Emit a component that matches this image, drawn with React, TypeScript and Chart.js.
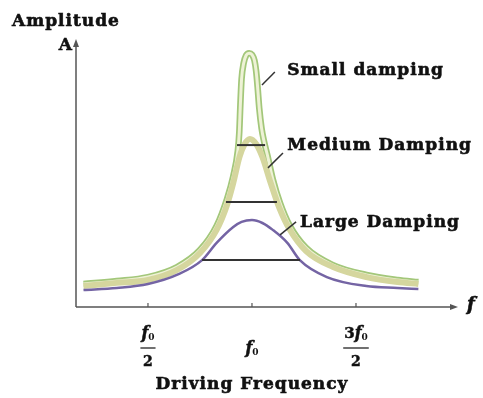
import React, { useEffect, useRef } from "react";
import { Chart, registerables } from "chart.js";

Chart.register(...registerables);

// Driving frequency in units of f0, amplitude in arbitrary units
const freqSmall = [0.19, 0.35, 0.5, 0.64, 0.75, 0.83, 0.88, 0.91, 0.932, 0.939, 0.944, 0.95, 0.96, 0.972, 0.986, 1.0, 1.012, 1.02, 1.027, 1.035, 1.046, 1.058, 1.075, 1.1, 1.135, 1.18, 1.26, 1.39, 1.55, 1.7, 1.8];
const ampSmall = [0.87, 0.98, 1.13, 1.51, 2.15, 3.06, 4.08, 4.94, 5.9, 6.6, 7.6, 8.6, 9.2, 9.5, 9.58, 9.52, 9.3, 8.9, 8.3, 7.5, 6.75, 6.25, 5.7, 4.83, 3.92, 3.09, 2.23, 1.58, 1.21, 1.02, 0.94];

const freqMedium = [0.19, 0.35, 0.5, 0.64, 0.75, 0.83, 0.88, 0.91, 0.94, 0.965, 0.99, 1.02, 1.05, 1.09, 1.13, 1.18, 1.26, 1.39, 1.55, 1.7, 1.8];
const ampMedium = [0.79, 0.91, 1.02, 1.4, 2.04, 2.91, 3.85, 4.68, 5.66, 6.15, 6.34, 6.15, 5.66, 4.68, 3.77, 2.94, 2.11, 1.51, 1.13, 0.94, 0.87];

const freqLarge = [0.19, 0.35, 0.5, 0.65, 0.76, 0.83, 0.91, 0.95, 1.0, 1.05, 1.1, 1.17, 1.23, 1.36, 1.55, 1.7, 1.8];
const ampLarge = [0.64, 0.72, 0.87, 1.25, 1.77, 2.42, 3.02, 3.21, 3.28, 3.17, 2.91, 2.42, 1.77, 1.13, 0.79, 0.72, 0.68];

// Bandwidth markers: [left freq, right freq], amplitude level
const widthSmall = [0.928, 1.063];
const levelSmall = 6.11;
const widthMedium = [0.875, 1.12];
const levelMedium = 3.96;
const widthLarge = [0.76, 1.231];
const levelLarge = 1.77;

const tickValues = [0.5, 1.0, 1.5];
const tickPrefix = ["", "", "3"];
const tickDenominator = ["2", "", "2"];

const seriesLabels = ["Small damping", "Medium Damping", "Large Damping"];

const X_MIN = 0.154;
const X_MAX = 1.976;

const FONT = '"DejaVu Serif", "Liberation Serif", serif';

function pts(xs: number[], ys: number[]) {
  return xs.map((x, i) => ({ x, y: ys[i] }));
}

function boldText(ctx: CanvasRenderingContext2D, t: string, x: number, y: number) {
  ctx.fillText(t, x, y);
  ctx.strokeText(t, x, y);
}

function drawF0(ctx: CanvasRenderingContext2D, prefix: string, cx: number, cy: number) {
  ctx.save();
  ctx.textBaseline = "middle";
  const pf = "bold 15px " + FONT;
  const ff = "italic bold 16px " + FONT;
  const sf = "bold 9px " + FONT;
  ctx.font = pf;
  const wp = prefix ? ctx.measureText(prefix).width : 0;
  ctx.font = ff;
  const wf = ctx.measureText("f").width;
  ctx.font = sf;
  const ws = ctx.measureText("0").width;
  const total = wp + wf + ws;
  let x = cx - total / 2;
  ctx.textAlign = "left";
  ctx.lineWidth = 0.5;
  if (prefix) {
    ctx.font = pf;
    boldText(ctx, prefix, x, cy);
    x += wp;
  }
  ctx.font = ff;
  boldText(ctx, "f", x, cy);
  x += wf;
  ctx.font = sf;
  ctx.fillText("0", x, cy + 4);
  ctx.restore();
  return total;
}

const decorPlugin = {
  id: "decor",
  beforeDatasetsDraw(chart: any) {
    const { ctx, chartArea } = chart;
    const xs = chart.scales.x;
    const { left, right, top, bottom } = chartArea;
    ctx.save();
    ctx.strokeStyle = "#555";
    ctx.fillStyle = "#555";
    ctx.lineWidth = 1.5;
    // x axis
    ctx.beginPath();
    ctx.moveTo(left, bottom);
    ctx.lineTo(right - 2, bottom);
    ctx.stroke();
    ctx.beginPath();
    ctx.moveTo(right + 3, bottom);
    ctx.lineTo(right - 5, bottom - 3);
    ctx.lineTo(right - 5, bottom + 3);
    ctx.closePath();
    ctx.fill();
    // y axis
    ctx.beginPath();
    ctx.moveTo(left, bottom);
    ctx.lineTo(left, top + 2);
    ctx.stroke();
    ctx.beginPath();
    ctx.moveTo(left, top - 3);
    ctx.lineTo(left - 3, top + 5);
    ctx.lineTo(left + 3, top + 5);
    ctx.closePath();
    ctx.fill();
    // ticks
    ctx.lineWidth = 1.2;
    tickValues.forEach((v) => {
      const px = xs.getPixelForValue(v);
      ctx.beginPath();
      ctx.moveTo(px, bottom);
      ctx.lineTo(px, bottom - 4);
      ctx.stroke();
    });
    ctx.restore();
  },
  afterDatasetsDraw(chart: any) {
    const { ctx, chartArea } = chart;
    const xs = chart.scales.x;
    const ys = chart.scales.y;
    const { left, right, bottom } = chartArea;
    ctx.save();
    ctx.fillStyle = "#111";
    ctx.strokeStyle = "#111";
    // tick labels
    tickValues.forEach((v, i) => {
      const px = xs.getPixelForValue(v);
      if (tickDenominator[i]) {
        const w = drawF0(ctx, tickPrefix[i], px, bottom + 27);
        ctx.lineWidth = 1.2;
        ctx.beginPath();
        ctx.moveTo(px - w / 2 - 1, bottom + 41);
        ctx.lineTo(px + w / 2 + 1, bottom + 41);
        ctx.stroke();
        ctx.font = "bold 14px " + FONT;
        ctx.textAlign = "center";
        ctx.textBaseline = "middle";
        ctx.lineWidth = 0.5;
        boldText(ctx, tickDenominator[i], px, bottom + 55);
      } else {
        drawF0(ctx, tickPrefix[i], px, bottom + 42);
      }
    });
    // axis titles
    (ctx as any).letterSpacing = "1px";
    ctx.lineWidth = 0.6;
    ctx.font = "bold 17px " + FONT;
    ctx.textAlign = "center";
    ctx.textBaseline = "middle";
    boldText(ctx, "Driving Frequency", xs.getPixelForValue(1.0), bottom + 78);
    ctx.textAlign = "left";
    boldText(ctx, "Amplitude", 12, 22);
    (ctx as any).letterSpacing = "0px";
    ctx.textAlign = "right";
    boldText(ctx, "A", left - 4, 46);
    ctx.textAlign = "left";
    ctx.font = "italic bold 18px " + FONT;
    boldText(ctx, "f", right + 12, bottom - 2);

    // series labels with leader lines
    const leaders = [
      { from: [1.048, 8.38], to: [1.11, 8.87], text: [1.17, 8.94] },
      { from: [1.077, 5.25], to: [1.149, 5.81], text: [1.17, 6.11] },
      { from: [1.135, 2.72], to: [1.212, 3.21], text: [1.231, 3.17] },
    ];
    leaders.forEach((l, i) => {
      ctx.strokeStyle = "#333";
      ctx.lineWidth = 1.5;
      ctx.beginPath();
      ctx.moveTo(xs.getPixelForValue(l.from[0]), ys.getPixelForValue(l.from[1]));
      ctx.lineTo(xs.getPixelForValue(l.to[0]), ys.getPixelForValue(l.to[1]));
      ctx.stroke();
      (ctx as any).letterSpacing = "1px";
      ctx.strokeStyle = "#111";
      ctx.lineWidth = 0.6;
      ctx.font = "bold 17px " + FONT;
      ctx.textAlign = "left";
      ctx.textBaseline = "middle";
      boldText(ctx, seriesLabels[i], xs.getPixelForValue(l.text[0]), ys.getPixelForValue(l.text[1]));
      (ctx as any).letterSpacing = "0px";
    });
    ctx.restore();
  },
};

export default function App() {
  const canvasRef = useRef<HTMLCanvasElement | null>(null);

  useEffect(() => {
    document.body.style.margin = "0";
    const canvas = canvasRef.current;
    if (!canvas) return;
    const markerStyle = {
      borderColor: "#333",
      borderWidth: 2,
      pointRadius: 0,
      fill: false,
      order: 1,
    };
    const chart = new Chart(canvas, {
      type: "line",
      data: {
        datasets: [
          {
            label: "Small damping",
            data: pts(freqSmall, ampSmall),
            borderColor: "#a3c77a",
            borderWidth: 6.5,
            pointRadius: 0,
            cubicInterpolationMode: "monotone",
            order: 6,
          },
          {
            label: "Small damping inner",
            data: pts(freqSmall, ampSmall),
            borderColor: "#eef2d6",
            borderWidth: 3,
            pointRadius: 0,
            cubicInterpolationMode: "monotone",
            order: 5,
          },
          {
            label: "Medium Damping",
            data: pts(freqMedium, ampMedium),
            borderColor: "#d5d69e",
            borderWidth: 6,
            pointRadius: 0,
            cubicInterpolationMode: "monotone",
            order: 4,
          },
          {
            label: "Large Damping",
            data: pts(freqLarge, ampLarge),
            borderColor: "#7464a4",
            borderWidth: 2.5,
            pointRadius: 0,
            cubicInterpolationMode: "monotone",
            order: 2,
          },
          { label: "w1", data: widthSmall.map((x) => ({ x, y: levelSmall })), ...markerStyle },
          { label: "w2", data: widthMedium.map((x) => ({ x, y: levelMedium })), ...markerStyle },
          { label: "w3", data: widthLarge.map((x) => ({ x, y: levelLarge })), ...markerStyle },
        ] as any,
      },
      options: {
        animation: false,
        responsive: false,
        maintainAspectRatio: false,
        layout: { padding: { left: 76, right: 28, top: 42, bottom: 91 } },
        plugins: { legend: { display: false }, tooltip: { enabled: false } },
        events: [],
        scales: {
          x: { type: "linear", min: X_MIN, max: X_MAX, display: false },
          y: { type: "linear", min: 0, max: 10, display: false },
        },
      },
      plugins: [decorPlugin],
    });
    return () => chart.destroy();
  }, []);

  return (
    <div style={{ width: 483, height: 398, background: "#fff" }}>
      <canvas ref={canvasRef} width={483} height={398} style={{ display: "block" }} />
    </div>
  );
}
